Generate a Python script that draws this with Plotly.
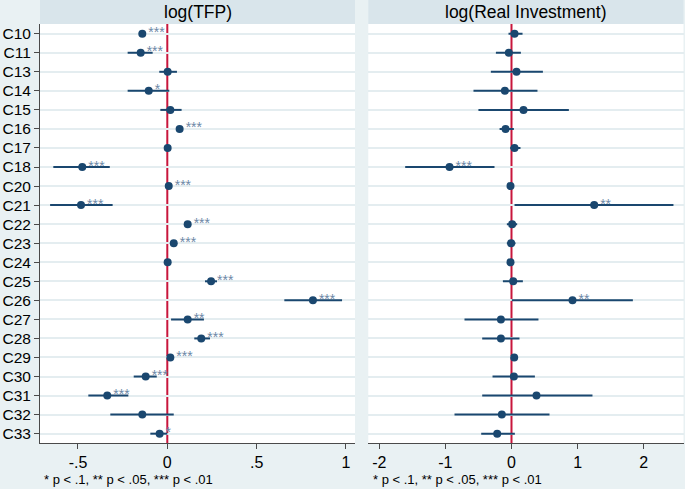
import plotly.graph_objects as go

# ---------------- data ----------------
categories = ["C10", "C11", "C13", "C14", "C15", "C16", "C17", "C18", "C20", "C21", "C22",
              "C23", "C24", "C25", "C26", "C27", "C28", "C29", "C30", "C31", "C32", "C33"]

tfp_coef = [-0.140, -0.149, 0.002, -0.104, 0.017, 0.069, 0.002, -0.476, 0.008, -0.483, 0.114,
            0.036, 0.002, 0.245, 0.815, 0.114, 0.190, 0.017, -0.121, -0.336, -0.140, -0.043]
tfp_lo = [-0.150, -0.222, -0.045, -0.222, -0.039, 0.062, -0.004, -0.638, 0.003, -0.656, 0.108,
          0.030, -0.003, 0.211, 0.655, 0.021, 0.151, 0.011, -0.188, -0.442, -0.319, -0.095]
tfp_hi = [-0.130, -0.082, 0.054, 0.011, 0.080, 0.076, 0.008, -0.322, 0.013, -0.306, 0.120,
          0.042, 0.007, 0.278, 0.978, 0.205, 0.239, 0.023, -0.059, -0.218, 0.036, 0.000]
tfp_stars = ["***", "***", "", "*", "", "***", "", "***", "***", "***", "***",
             "***", "", "***", "***", "**", "***", "***", "***", "***", "", "*"]

inv_coef = [0.046, -0.040, 0.076, -0.100, 0.182, -0.090, 0.046, -0.937, -0.015, 1.251, 0.010,
            -0.005, -0.015, 0.026, 0.923, -0.160, -0.160, 0.041, 0.036, 0.378, -0.146, -0.216]
inv_lo = [-0.045, -0.236, -0.312, -0.575, -0.500, -0.180, -0.020, -1.608, -0.040, 0.046, -0.070,
          -0.070, -0.040, -0.130, 0.005, -0.711, -0.443, 0.020, -0.287, -0.443, -0.862, -0.458]
inv_hi = [0.167, 0.142, 0.475, 0.393, 0.868, 0.036, 0.136, -0.257, 0.010, 2.450, 0.086,
          0.060, 0.010, 0.172, 1.836, 0.408, 0.121, 0.062, 0.354, 1.225, 0.575, 0.051]
inv_stars = ["", "", "", "", "", "", "", "***", "", "**", "",
             "", "", "", "**", "", "", "", "", "", "", ""]

panel_titles = ["log(TFP)", "log(Real Investment)"]
tfp_tickvals = [-0.5, 0, 0.5, 1]
tfp_ticktext = ["-.5", "0", ".5", "1"]
inv_tickvals = [-2, -1, 0, 1, 2]
inv_ticktext = ["-2", "-1", "0", "1", "2"]
footnote = "* p < .1, ** p < .05, *** p < .01"

# ---------------- style ----------------
W, H = 685, 489
FONT = "Arial, Liberation Sans, sans-serif"
NAVY = "#1a476f"
STAR = "#6d88a6"
RED = "#c8163c"
BG = "#e9f1f3"
BAND = "#d9e5eb"
GRID = "#e4edf0"
AX = "#4a4a4a"

def px_x(p):
    return p / W

def px_y(p):
    return 1 - p / H

x1_dom = [px_x(40), px_x(355)]
x2_dom = [px_x(368.3), px_x(683.5)]
y_dom = [px_y(443), px_y(24)]

fig = go.Figure()

def add_panel(coef, lo, hi, stars, xa, ya):
    plus = [h - c for h, c in zip(hi, coef)]
    minus = [c - l for c, l in zip(coef, lo)]
    fig.add_trace(go.Scatter(
        x=coef, y=categories, xaxis=xa, yaxis=ya,
        mode="markers+text",
        marker=dict(color=NAVY, size=8),
        error_x=dict(type="data", symmetric=False, array=plus, arrayminus=minus,
                     color=NAVY, thickness=2, width=0),
        text=stars, textposition="middle right",
        textfont=dict(family=FONT, size=14, color=STAR),
        cliponaxis=False, showlegend=False, hoverinfo="x+y",
    ))

add_panel(tfp_coef, tfp_lo, tfp_hi, tfp_stars, "x", "y")
add_panel(inv_coef, inv_lo, inv_hi, inv_stars, "x2", "y2")

yrange = [len(categories) - 0.51, -0.51]

fig.update_layout(
    width=W, height=H,
    margin=dict(l=0, r=0, t=0, b=0),
    paper_bgcolor=BG, plot_bgcolor="white",
    font=dict(family=FONT, color="black"),
    xaxis=dict(domain=x1_dom, range=[-0.7125, 1.0505], anchor="y",
               tickvals=tfp_tickvals, ticktext=tfp_ticktext,
               showgrid=False, zeroline=False, showline=True, linecolor=AX, linewidth=1,
               ticks="outside", ticklen=5, tickcolor=AX, tickfont=dict(size=16),
               automargin=False),
    xaxis2=dict(domain=x2_dom, range=[-2.166, 2.602], anchor="y2",
                tickvals=inv_tickvals, ticktext=inv_ticktext,
                showgrid=False, zeroline=False, showline=True, linecolor=AX, linewidth=1,
                ticks="outside", ticklen=5, tickcolor=AX, tickfont=dict(size=16),
                automargin=False),
    yaxis=dict(domain=y_dom, anchor="x", type="category",
               categoryorder="array", categoryarray=categories, range=yrange,
               showgrid=True, gridcolor=GRID, gridwidth=1.5, zeroline=False,
               showline=True, linecolor=AX, linewidth=1,
               ticks="outside", ticklen=5, tickcolor=AX, tickfont=dict(size=15.5),
               automargin=False),
    yaxis2=dict(domain=y_dom, anchor="x2", type="category", matches="y",
                categoryorder="array", categoryarray=categories, range=yrange,
                showgrid=True, gridcolor=GRID, gridwidth=1.5, zeroline=False,
                showline=False, showticklabels=False, ticks="",
                automargin=False),
)

# zero reference lines
for xa, ya in (("x", "y"), ("x2", "y2")):
    fig.add_shape(type="line", xref=xa, yref=f"{ya} domain", x0=0, x1=0, y0=0, y1=1,
                  line=dict(color=RED, width=2), layer="below")

# header bands and titles
for dom, title in zip((x1_dom, x2_dom), panel_titles):
    fig.add_shape(type="rect", xref="paper", yref="paper",
                  x0=dom[0], x1=dom[1], y0=y_dom[1], y1=1,
                  fillcolor=BAND, line=dict(width=0), layer="below")
    fig.add_annotation(xref="paper", yref="paper", x=(dom[0] + dom[1]) / 2, y=px_y(12),
                       text=title, showarrow=False, xanchor="center", yanchor="middle",
                       font=dict(family=FONT, size=17.5, color="black"))

# footnotes
for xp in (42, 371):
    fig.add_annotation(xref="paper", yref="paper", x=px_x(xp), y=px_y(479),
                       text=footnote, showarrow=False, xanchor="left", yanchor="middle",
                       font=dict(family=FONT, size=13, color="black"))

fig.write_html("out.html", config={"displayModeBar": False},
               post_script="document.body.style.margin='0';document.body.style.overflow='hidden';")
